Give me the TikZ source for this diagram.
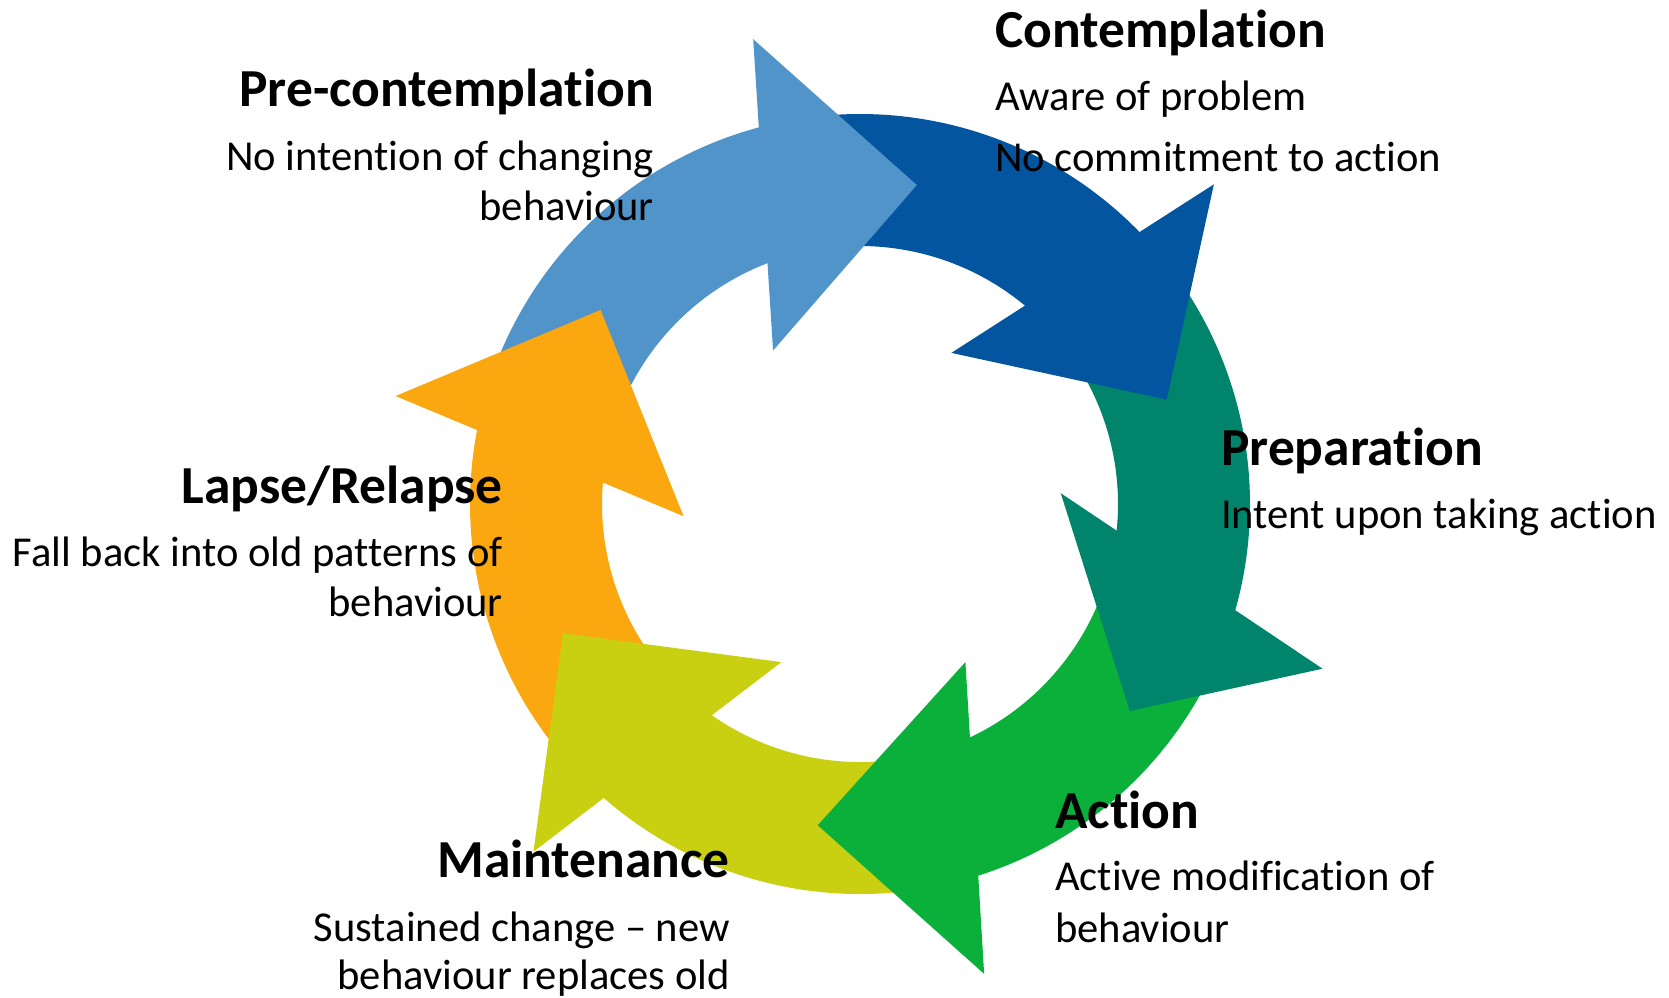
\documentclass[tikz,border=0pt]{standalone}
\usepackage{fontspec}
\setmainfont{Carlito}[Ligatures=NoCommon]
\usetikzlibrary{calc}

\definecolor{precol}{RGB}{80,148,202}
\definecolor{contcol}{RGB}{2,85,158}
\definecolor{prepcol}{RGB}{0,132,108}
\definecolor{actcol}{RGB}{10,176,58}
\definecolor{maintcol}{RGB}{200,208,17}
\definecolor{lapsecol}{RGB}{251,167,16}

\tikzset{
    stagetitle/.style={font=\fontsize{53.5}{62}\selectfont\bfseries, inner sep=0pt},
    stagetext/.style={font=\fontsize{42.6}{50}\selectfont, inner sep=0pt},
}

\begin{document}
\begin{tikzpicture}[x=1pt, y=1pt]
    \useasboundingbox (0, 0) rectangle (1669, -997);

    \begin{scope}[shift={(860, -504)}]
        % ring segments, outer radius 390, inner radius 258
        \fill[precol] (165.5:390pt) arc[start angle=165.5, end angle=101.4, radius=390pt]
            -- (101.4:258pt) arc[start angle=101.4, end angle=165.5, radius=258pt] -- cycle;
        \fill[contcol] (101.4:390pt) arc[start angle=101.4, end angle=40.6, radius=390pt]
            -- (40.6:258pt) arc[start angle=40.6, end angle=101.4, radius=258pt] -- cycle;
        \fill[prepcol] (40.6:390pt) arc[start angle=40.6, end angle=-17, radius=390pt]
            -- (-17:258pt) arc[start angle=-17, end angle=40.6, radius=258pt] -- cycle;
        \fill[actcol] (-17:390pt) arc[start angle=-17, end angle=-76, radius=390pt]
            -- (-76:258pt) arc[start angle=-76, end angle=-17, radius=258pt] -- cycle;
        \fill[maintcol] (-76:390pt) arc[start angle=-76, end angle=-134.7, radius=390pt]
            -- (-134.7:258pt) arc[start angle=-134.7, end angle=-76, radius=258pt] -- cycle;
        \fill[lapsecol] (-134.7:390pt) arc[start angle=-134.7, end angle=-194.5, radius=390pt]
            -- (-194.5:258pt) arc[start angle=-194.5, end angle=-134.7, radius=258pt] -- cycle;

        % arrow heads: base middle (M) and tip (T) on the mid circle
        \coordinate (preM) at (107.4:324pt);
        \coordinate (preT) at (79.9:324pt);
        \coordinate (contM) at (46.6:324pt);
        \coordinate (contT) at (18.8:324pt);
        \coordinate (maintM) at (-128.7:324pt);
        \coordinate (maintT) at (-156.5:324pt);
        \coordinate (lapseM) at (171.5:324pt);
        \coordinate (lapseT) at (143.2:324pt);

        \fill[precol] (preT) -- ($(preM)!156pt!90:(preT)$) -- ($(preM)!156pt!-90:(preT)$) -- cycle;
        \fill[contcol] (contT) -- ($(contM)!156pt!90:(contT)$) -- ($(contM)!156pt!-90:(contT)$) -- cycle;
        % these two sit a little tilted
        \fill[prepcol] (-37.5:340pt) -- (-19.6:491pt) -- (3.1:201pt) -- cycle;
        \fill[actcol] (-97.5:324pt) -- (-75.2:486pt) -- (-56.3:190pt) -- cycle;
        \fill[maintcol] (maintT) -- ($(maintM)!156pt!90:(maintT)$) -- ($(maintM)!156pt!-90:(maintT)$) -- cycle;
        \fill[lapsecol] (lapseT) -- ($(lapseM)!156pt!90:(lapseT)$) -- ($(lapseM)!156pt!-90:(lapseT)$) -- cycle;
    \end{scope}

    % stage names and descriptions
    \node[stagetitle, anchor=base east] (pre) at (654, -106) {Pre-contemplation};
    \node[stagetext, anchor=base east] (pre1) at (654, -170) {No intention of changing};
    \node[stagetext, anchor=base east] (pre2) at (654, -220) {behaviour};

    \node[stagetitle, anchor=base west] (cont) at (995, -47) {Contemplation};
    \node[stagetext, anchor=base west] (cont1) at (995, -110) {Aware of problem};
    \node[stagetext, anchor=base west] (cont2) at (995, -171) {No commitment to action};

    \node[stagetitle, anchor=base west] (prep) at (1221, -465) {Preparation};
    \node[stagetext, anchor=base west] (prep1) at (1221, -528) {Intent upon taking action};

    \node[stagetitle, anchor=base west] (act) at (1055, -828) {Action};
    \node[stagetext, anchor=base west] (act1) at (1055, -890) {Active modification of};
    \node[stagetext, anchor=base west] (act2) at (1055, -942) {behaviour};

    \node[stagetitle, anchor=base east] (maint) at (730, -877) {Maintenance};
    \node[stagetext, anchor=base east] (maint1) at (730, -941) {Sustained change – new};
    \node[stagetext, anchor=base east] (maint2) at (730, -989) {behaviour replaces old};

    \node[stagetitle, anchor=base east] (lapse) at (503, -503) {Lapse/Relapse};
    \node[stagetext, anchor=base east] (lapse1) at (503, -566) {Fall back into old patterns of};
    \node[stagetext, anchor=base east] (lapse2) at (503, -616) {behaviour};
\end{tikzpicture}
\end{document}
